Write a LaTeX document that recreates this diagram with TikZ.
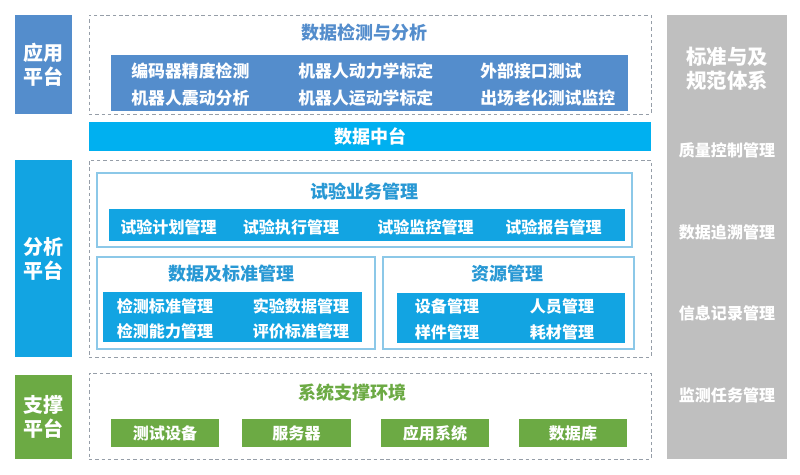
\documentclass[tikz,border=0pt]{standalone}
\usepackage{fontspec}
\setmainfont{Noto Sans CJK SC}
\usepackage{tikz}
\usetikzlibrary{positioning,calc}
\definecolor{AppBlue}{RGB}{84,141,204}
\definecolor{HubCyan}{RGB}{0,176,240}
\definecolor{AnaBlue}{RGB}{18,164,226}
\definecolor{TitleBlue}{RGB}{40,152,212}
\definecolor{SupGreen}{RGB}{108,170,68}
\definecolor{SideGray}{RGB}{191,191,191}
\definecolor{DashGray}{RGB}{150,158,168}
\definecolor{EdgeBlue}{RGB}{140,200,232}
\tikzset{
  plat/.style={draw=none,text=white,font=\fontsize{14.2}{17}\selectfont\bfseries,
    align=center,inner sep=0pt,minimum width=1.425cm},
  layer/.style={draw=DashGray,line width=0.6pt,dash pattern=on 2.5pt off 2pt,
    minimum width=14.05cm,inner sep=0pt},
  group/.style={draw=EdgeBlue,line width=0.9pt,inner sep=0pt},
  bar/.style={draw=none,inner sep=0pt},
  title/.style={font=\fontsize{12.8}{15}\selectfont\bfseries,inner sep=0pt},
  item/.style={text=white,font=\fontsize{11.4}{13}\selectfont\bfseries,inner sep=0pt},
  topitem/.style={item,anchor=west,font=\fontsize{12}{14}\selectfont\bfseries},
  side/.style={text=white,font=\fontsize{11.4}{13}\selectfont\bfseries,inner sep=0pt},
}

\begin{document}
\begin{tikzpicture}[x=0.025cm,y=-0.025cm]
\useasboundingbox (0,0) rectangle (800,474);

% left column
\node[plat,fill=AppBlue,minimum height=2.475cm] (app) at (43.5,64.5) {应用\\平台};
\node[plat,fill=AnaBlue,minimum height=4.925cm] (ana) at (43.5,258.5) {分析\\平台};
\node[plat,fill=SupGreen,minimum height=2.1cm] (sup) at (43.5,417) {支撑\\平台};

% right column
\node[bar,fill=SideGray,minimum width=3cm,minimum height=11.1cm] (std) at (727,237) {};
\node[side,align=center,font=\fontsize{14.5}{17}\selectfont\bfseries] (stdT) at (727,68.5) {标准与及\\规范体系};
\node[side] (q1) at (727,150) {质量控制管理};
\node[side] (q2) at (727,232) {数据追溯管理};
\node[side] (q3) at (727,313) {信息记录管理};
\node[side] (q4) at (727,395) {监测任务管理};

% application layer
\node[layer,minimum height=2.475cm] (appL) at (370,64.5) {};
\node[title,text=AppBlue] (appT) at (364,33) {数据检测与分析};
\node[bar,fill=AppBlue,minimum width=12.925cm,minimum height=1.4cm] (appB) at (369.5,83) {};
\node[topitem] (a1) at (131,71) {编码器精度检测};
\node[topitem] (a2) at (298,71) {机器人动力学标定};
\node[topitem] (a3) at (480,71) {外部接口测试};
\node[topitem] (a4) at (131,98) {机器人震动分析};
\node[topitem] (a5) at (298,98) {机器人运动学标定};
\node[topitem] (a6) at (480,98) {出场老化测试监控};

% data hub
\node[bar,fill=HubCyan,minimum width=14.05cm,minimum height=0.725cm,
  text=white,font=\fontsize{12.8}{15}\selectfont\bfseries] (hub) at (370,136.5) {数据中台};

% analysis layer
\node[layer,minimum height=4.925cm] (anaL) at (370,258.5) {};
\node[group,minimum width=13.375cm,minimum height=1.85cm] (biz) at (364.5,210) {};
\node[title,text=TitleBlue] (bizT) at (364,192) {试验业务管理};
\node[bar,fill=AnaBlue,minimum width=12.9cm,minimum height=0.8cm] (bizB) at (367,225) {};
\node[item] (b1) at (168.5,227) {试验计划管理};
\node[item] (b2) at (291,227) {试验执行管理};
\node[item] (b3) at (425.5,227) {试验监控管理};
\node[item] (b4) at (553.5,227) {试验报告管理};

\node[group,minimum width=6.95cm,minimum height=2.3cm] (dat) at (236,303) {};
\node[title,text=TitleBlue] (datT) at (231,274) {数据及标准管理};
\node[bar,fill=AnaBlue,minimum width=6.475cm,minimum height=1.25cm] (datB) at (232.5,317) {};
\node[item] (d1) at (165,306) {检测标准管理};
\node[item] (d2) at (301,306) {实验数据管理};
\node[item] (d3) at (165,331) {检测能力管理};
\node[item] (d4) at (301,331) {评价标准管理};

\node[group,minimum width=6.275cm,minimum height=2.3cm] (res) at (508.5,303) {};
\node[title,text=TitleBlue] (resT) at (507,274) {资源管理};
\node[bar,fill=AnaBlue,minimum width=5.7cm,minimum height=1.25cm] (resB) at (511,318) {};
\node[item] (r1) at (447,306) {设备管理};
\node[item] (r2) at (562,306) {人员管理};
\node[item] (r3) at (447,332) {样件管理};
\node[item] (r4) at (562,332) {耗材管理};

% support layer
\node[layer,minimum height=2.15cm] (supL) at (370,416) {};
\node[title,text=SupGreen] (supT) at (352,393) {系统支撑环境};
\foreach \n/\x/\t in {s1/165/测试设备,s2/296.5/服务器,s3/435/应用系统,s4/573/数据库}
  \node[bar,fill=SupGreen,minimum width=2.7cm,minimum height=0.7cm,text=white,
    font=\fontsize{11.4}{13}\selectfont\bfseries] (\n) at (\x,433) {\t};
\end{tikzpicture}
\end{document}
